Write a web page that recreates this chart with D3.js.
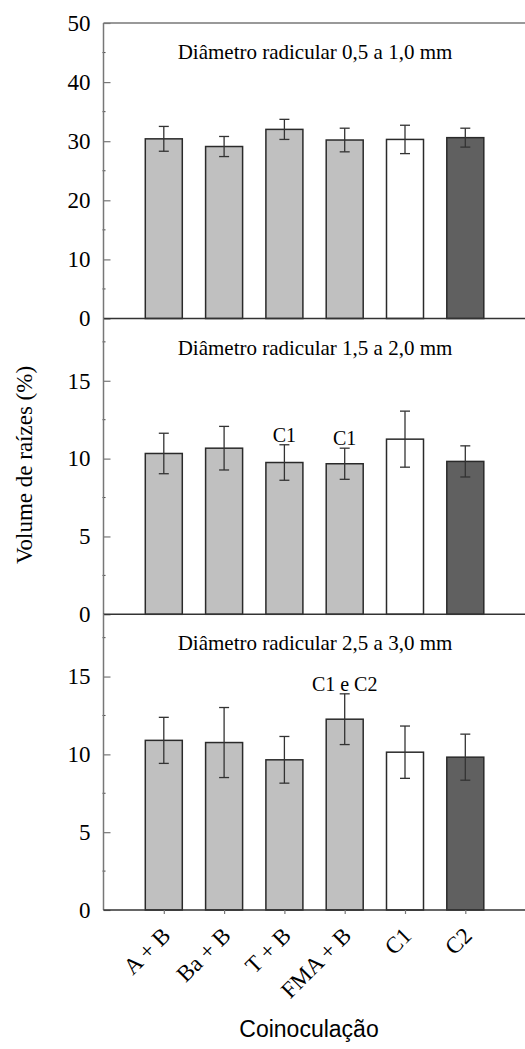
<!DOCTYPE html>
<html>
<head>
<meta charset="utf-8">
<script src="https://d3js.org/d3.v7.min.js"></script>
<style>
  body { margin: 0; background: #fff; }
  svg text { font-family: "Liberation Serif", "Times New Roman", serif; fill: #000; }
</style>
</head>
<body>
<div id="chart"></div>
<script>
var svgWidth = 525;
var svgHeight = 1049;

// categories
var categories = ["A + B", "Ba + B", "T + B", "FMA + B", "C1", "C2"];
var barColors = ["#c0c0c0", "#c0c0c0", "#c0c0c0", "#c0c0c0", "#ffffff", "#606060"];

// panel 1: 0,5 a 1,0 mm
var means1 = [30.4, 29.1, 32.0, 30.2, 30.3, 30.6];
var errs1 = [2.1, 1.7, 1.7, 2.0, 2.4, 1.6];
// panel 2: 1,5 a 2,0 mm
var means2 = [10.33, 10.67, 9.75, 9.67, 11.25, 9.82];
var errs2 = [1.3, 1.4, 1.14, 1.0, 1.8, 1.0];
// panel 3: 2,5 a 3,0 mm
var means3 = [10.9, 10.76, 9.65, 12.26, 10.14, 9.82];
var errs3 = [1.48, 2.25, 1.5, 1.63, 1.68, 1.48];

// significance labels by category index
var notes1 = ["", "", "", "", "", ""];
var notes2 = ["", "", "C1", "C1", "", ""];
var notes3 = ["", "", "", "C1 e C2", "", ""];

var titles = ["Diâmetro radicular 0,5 a 1,0 mm", "Diâmetro radicular 1,5 a 2,0 mm", "Diâmetro radicular 2,5 a 3,0 mm"];
var ticks1 = [0, 10, 20, 30, 40, 50];
var ticks23 = [0, 5, 10, 15];

var panels = [
  { means: means1, errs: errs1, notes: notes1, title: titles[0], max: 50, ticks: ticks1, minor: 5, top: 23, bottom: 318.5 },
  { means: means2, errs: errs2, notes: notes2, title: titles[1], max: 19, ticks: ticks23, minor: 2.5, top: 318.5, bottom: 614.3 },
  { means: means3, errs: errs3, notes: notes3, title: titles[2], max: 19, ticks: ticks23, minor: 2.5, top: 614.3, bottom: 910 }
];

var axisLeft = 103.5;
var axisRight = 525.6;
var axisColor = "#777";

var svg = d3.select("#chart")
  .append("svg")
  .attr("width", svgWidth)
  .attr("height", svgHeight);

// categories sit at 1..6 on a 0..7 scale
var xScale = d3.scaleLinear()
  .domain([0, categories.length + 1])
  .range([axisLeft, axisRight]);

var barWidth = 37;

panels.forEach(function(p, pi) {
  var yScale = d3.scaleLinear()
    .domain([0, p.max])
    .range([p.bottom, p.top]);

  var g = svg.append("g");

  // bars
  g.selectAll("rect")
    .data(p.means)
    .enter()
    .append("rect")
    .attr("x", (d, i) => xScale(i + 1) - barWidth / 2)
    .attr("y", d => yScale(d))
    .attr("width", barWidth)
    .attr("height", d => yScale(0) - yScale(d))
    .attr("fill", (d, i) => barColors[i])
    .attr("stroke", "#2a2a2a")
    .attr("stroke-width", 1.5);

  // error bars
  var eb = g.selectAll("g.err")
    .data(p.means)
    .enter()
    .append("g")
    .attr("class", "err")
    .attr("stroke", "#333")
    .attr("stroke-width", 1.3);

  eb.append("line")
    .attr("x1", (d, i) => xScale(i + 1))
    .attr("x2", (d, i) => xScale(i + 1))
    .attr("y1", (d, i) => yScale(d - p.errs[i]))
    .attr("y2", (d, i) => yScale(d + p.errs[i]));

  eb.append("line")
    .attr("x1", (d, i) => xScale(i + 1) - 5)
    .attr("x2", (d, i) => xScale(i + 1) + 5)
    .attr("y1", (d, i) => yScale(d + p.errs[i]))
    .attr("y2", (d, i) => yScale(d + p.errs[i]));

  eb.append("line")
    .attr("x1", (d, i) => xScale(i + 1) - 5)
    .attr("x2", (d, i) => xScale(i + 1) + 5)
    .attr("y1", (d, i) => yScale(d - p.errs[i]))
    .attr("y2", (d, i) => yScale(d - p.errs[i]));

  // significance notes above the error bars
  g.selectAll("text.note")
    .data(p.notes)
    .enter()
    .append("text")
    .attr("class", "note")
    .attr("x", (d, i) => xScale(i + 1))
    .attr("y", (d, i) => yScale(p.means[i] + p.errs[i]) - 3)
    .attr("text-anchor", "middle")
    .style("font-size", "20px")
    .text(d => d);

  // y axis: major ticks inside
  var leftAxis = d3.axisRight(yScale)
    .tickValues(p.ticks)
    .tickSize(7)
    .tickFormat("");
  var ya = g.append("g")
    .attr("transform", `translate(${axisLeft}, 0)`)
    .call(leftAxis);
  ya.select(".domain").remove();
  ya.selectAll("line").attr("stroke", axisColor).attr("stroke-width", 1.2);

  // minor ticks
  var minorVals = d3.range(p.minor, p.max, p.minor * 2);
  g.selectAll("line.minor")
    .data(minorVals)
    .enter()
    .append("line")
    .attr("class", "minor")
    .attr("x1", axisLeft - 1)
    .attr("x2", axisLeft + 2)
    .attr("y1", d => yScale(d))
    .attr("y2", d => yScale(d))
    .attr("stroke", "#444")
    .attr("stroke-width", 1);

  // tick labels
  g.selectAll("text.tick")
    .data(p.ticks)
    .enter()
    .append("text")
    .attr("class", "tick")
    .attr("x", axisLeft - 13)
    .attr("y", d => yScale(d))
    .attr("dy", "0.34em")
    .attr("text-anchor", "end")
    .style("font-size", "23px")
    .text(d => d);

  // axis line
  g.append("line")
    .attr("x1", axisLeft)
    .attr("x2", axisLeft)
    .attr("y1", p.top)
    .attr("y2", p.bottom)
    .attr("stroke", axisColor)
    .attr("stroke-width", 1.5);

  // panel baseline
  g.append("line")
    .attr("x1", axisLeft)
    .attr("x2", svgWidth)
    .attr("y1", p.bottom)
    .attr("y2", p.bottom)
    .attr("stroke", "#333")
    .attr("stroke-width", 1.5);

  if (pi === 0) {
    g.append("line")
      .attr("x1", axisLeft)
      .attr("x2", svgWidth)
      .attr("y1", p.top)
      .attr("y2", p.top)
      .attr("stroke", axisColor)
      .attr("stroke-width", 1.5);
  }

  // panel title
  g.append("text")
    .attr("x", 315)
    .attr("y", p.top + 36)
    .attr("text-anchor", "middle")
    .style("font-size", "21px")
    .text(p.title);
});

// x axis ticks and labels
var bottomAxis = d3.axisBottom(xScale)
  .tickValues(d3.range(1, categories.length + 1))
  .tickSize(4)
  .tickFormat("");
var xa = svg.append("g")
  .attr("transform", `translate(0, 910)`)
  .call(bottomAxis);
xa.select(".domain").remove();
xa.selectAll("line").attr("stroke", axisColor).attr("stroke-width", 1.2);

svg.selectAll("text.xlabel")
  .data(categories)
  .enter()
  .append("text")
  .attr("class", "xlabel")
  .attr("text-anchor", "end")
  .attr("transform", (d, i) => `translate(${xScale(i + 1) + 8}, 937) rotate(-45)`)
  .style("font-size", "23px")
  .text(d => d);

// axis titles
svg.append("text")
  .attr("transform", "translate(32, 465) rotate(-90)")
  .attr("text-anchor", "middle")
  .style("font-size", "23px")
  .text("Volume de raízes (%)");

svg.append("text")
  .attr("x", 309)
  .attr("y", 1037)
  .attr("text-anchor", "middle")
  .style("font-family", "'Liberation Sans', Arial, sans-serif")
  .style("font-size", "23px")
  .text("Coinoculação");
</script>
</body>
</html>
